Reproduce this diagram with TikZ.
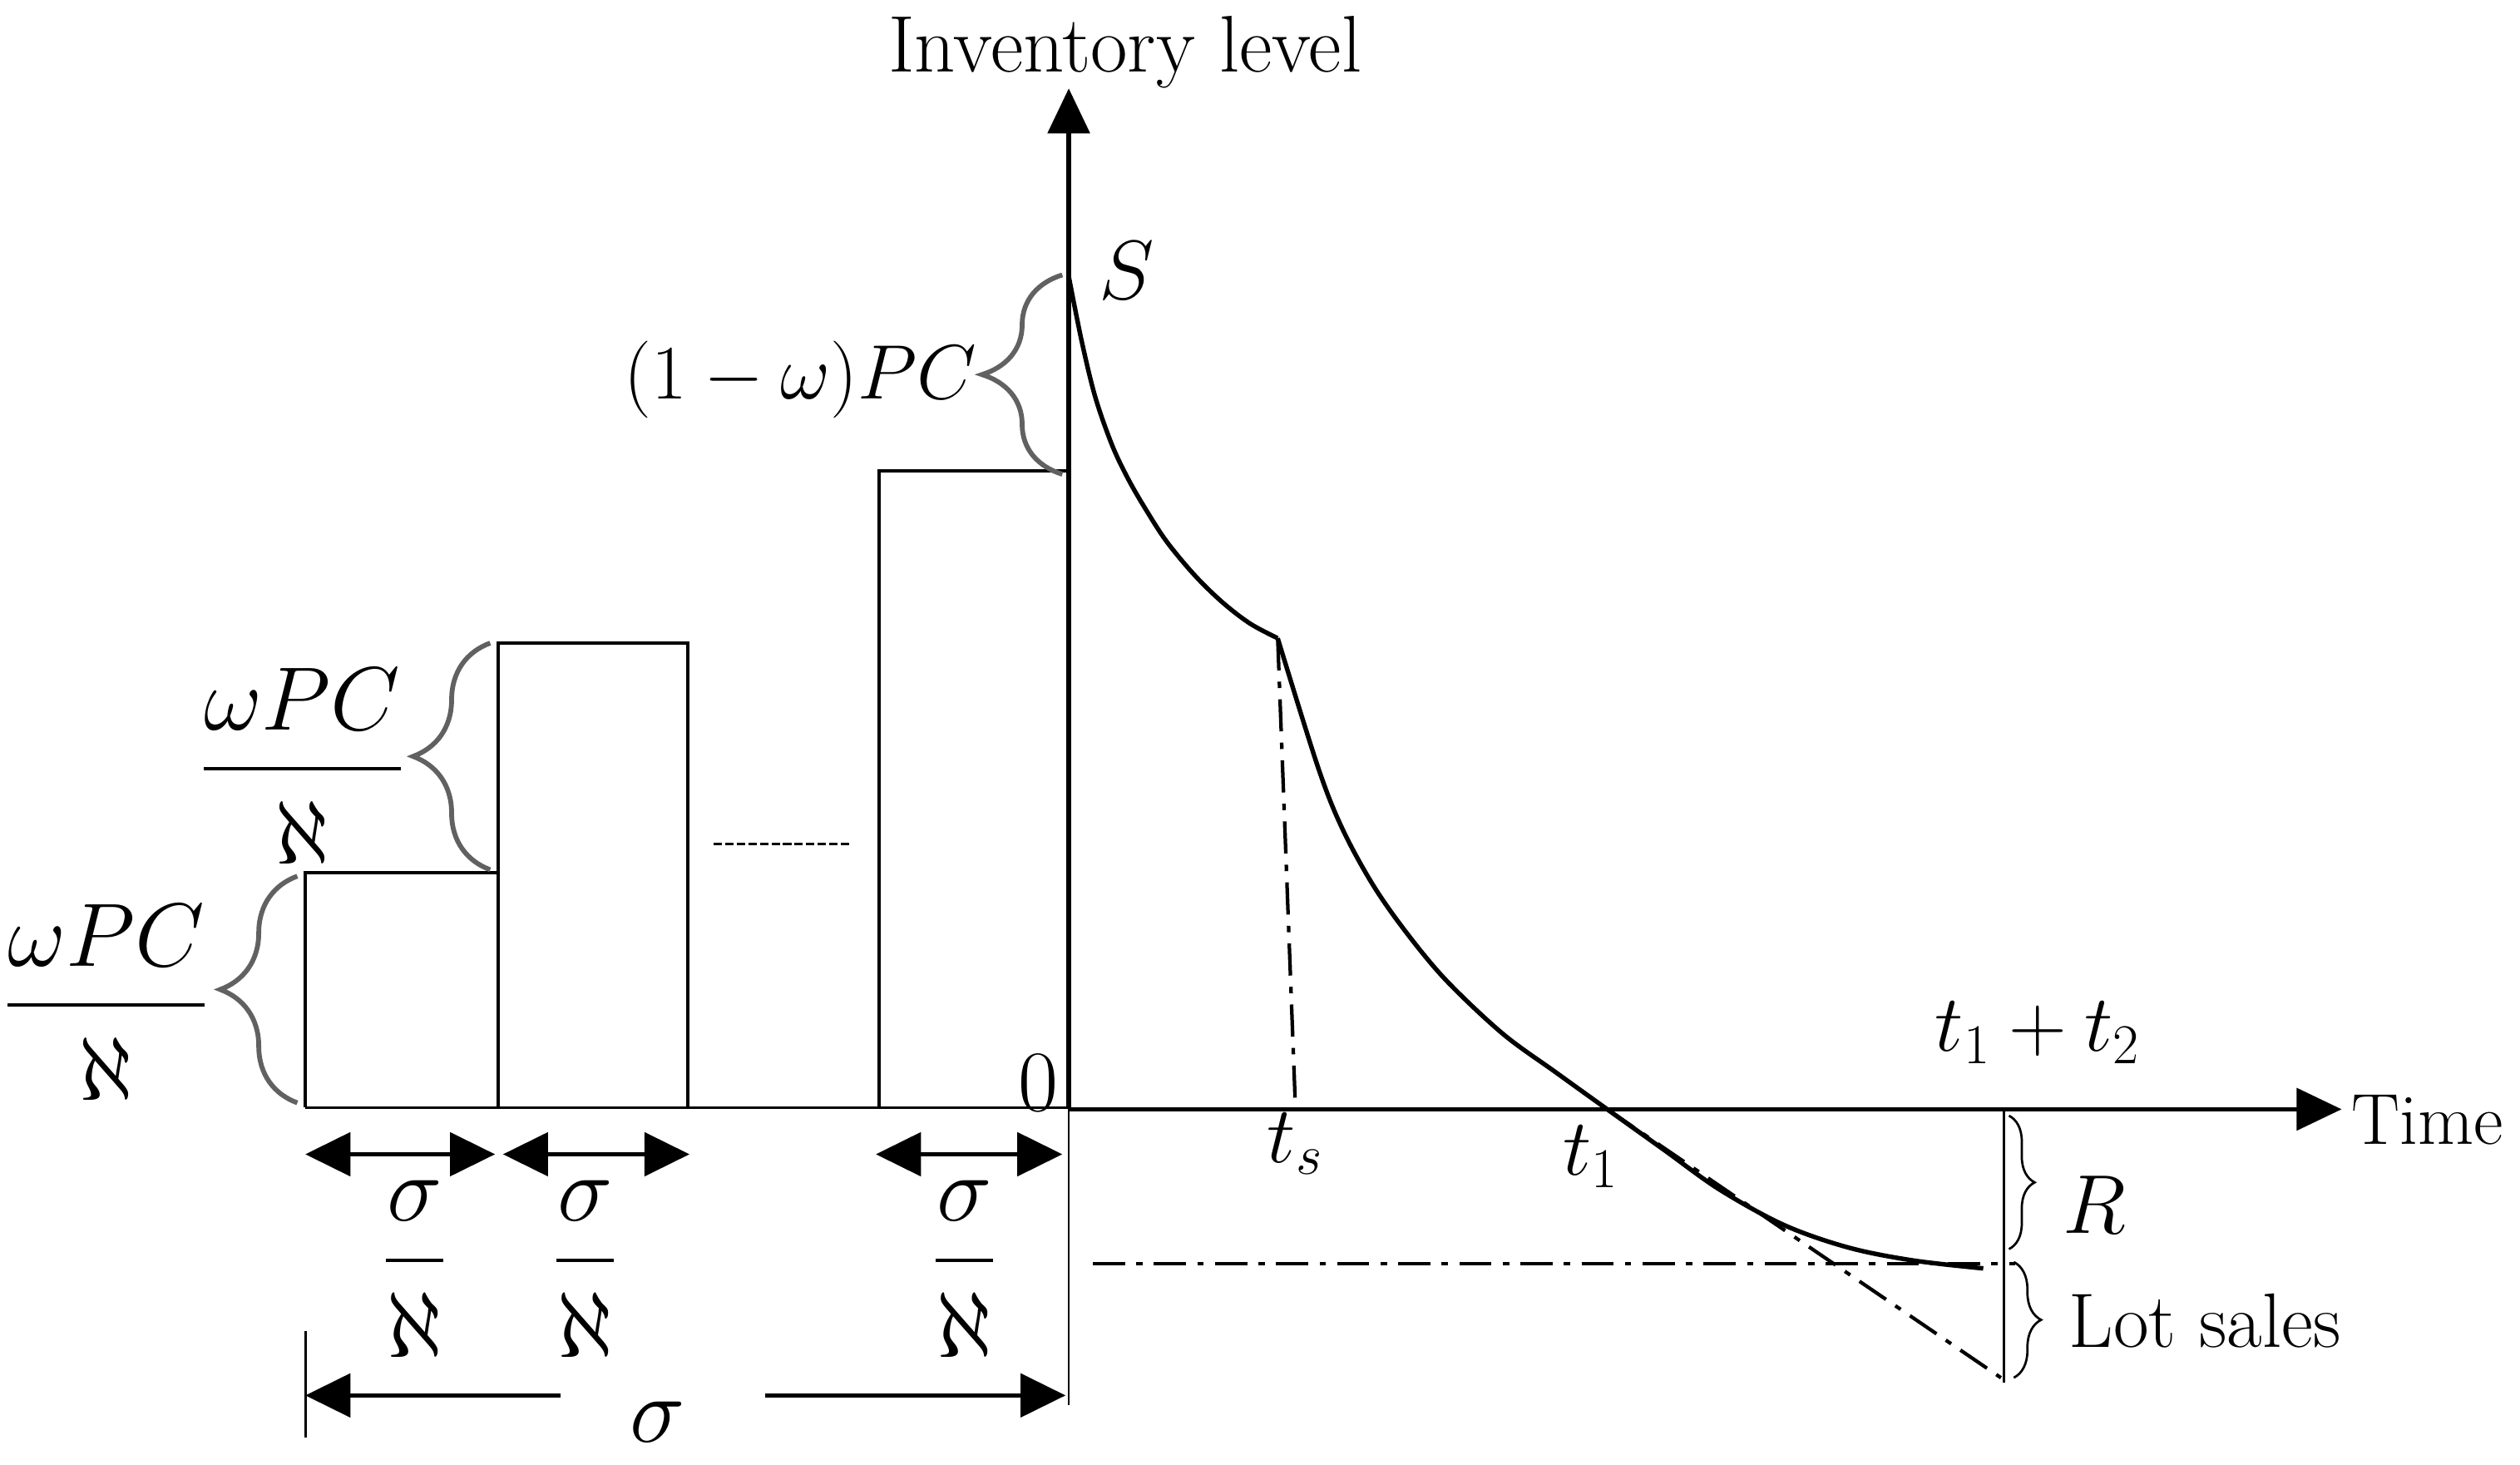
\RequirePackage{fix-cm}
\documentclass[tikz,border=0pt]{standalone}
\usepackage{amsmath}
\usetikzlibrary{arrows.meta,decorations.pathreplacing}
\begin{document}
\begin{tikzpicture}[x=0.5pt,y=-0.5pt,
  mainaxis/.style={line width=1.4pt,-{Triangle[length=14pt,width=13pt]}},
  boxline/.style={line width=1pt},
  thinline/.style={line width=0.7pt},
  invcurve/.style={line width=1.4pt,line join=round},
  dashdot/.style={line width=1.1pt,dash pattern=on 10pt off 3.5pt on 2pt off 3.5pt},
  dimboth/.style={line width=1.2pt,{Triangle[length=14pt,width=13.5pt]}-{Triangle[length=14pt,width=13.5pt]}},
  dimone/.style={line width=1.2pt,-{Triangle[length=14pt,width=13.5pt]}},
  graybrace/.style={draw=black!62,line width=1.5pt,decorate,decoration={brace,amplitude=#1}},
  thinbrace/.style={draw=black,line width=0.7pt,decorate,decoration={brace,amplitude=#1}},
  lbl/.style={inner sep=0pt,font=\fontsize{#1}{#1}\selectfont},
]
\useasboundingbox (0,0) rectangle (1568,911);

% key coordinates
\coordinate (O) at (665,690);
\coordinate (ytip) at (665,55);
\coordinate (xtip) at (1457,690);
\coordinate (ydown) at (665,874);
\coordinate (L0) at (190,689);
\coordinate (R0) at (665,689);
\coordinate (kink) at (795,397);
\coordinate (tsfoot) at (806,688);
\coordinate (tone) at (1000,690);
\coordinate (tanend) at (1245,857);
\coordinate (hstart) at (680,786);
\coordinate (hend) at (1254,786);
\coordinate (vtop) at (1247,690);
\coordinate (vbot) at (1247,860);

% axes
\draw[mainaxis] (O) -- (ytip);
\draw[mainaxis] (O) -- (xtip);
\draw[thinline] (O) -- (ydown);

% bars
\draw[boxline] (L0) -- (R0);
\draw[boxline] (190,689) -- (190,543) -- (310,543) -- (310,689);
\draw[boxline] (310,689) -- (310,400) -- (428,400) -- (428,689);
\draw[boxline] (547,689) -- (547,293) -- (665,293);
\coordinate (dl) at (444,525);
\coordinate (dr) at (529,525);
\draw[line width=0.8pt,dash pattern=on 2.6pt off 1pt] (dl) -- (dr);

% inventory curve
\draw[invcurve] plot[smooth,tension=0.55] coordinates {(665,172) (673,212) (681.5,247) (692,277) (702,298) (713,317) (726,337) (743.5,358) (761,375) (778,388) (795,397)};
\draw[invcurve] plot[smooth,tension=0.55] coordinates {(795,397) (820,477) (835,515) (854,550) (875,580) (900,610) (935,643) (968,667) (1000,690) (1035,715) (1070,740) (1110,762) (1150,776) (1190,784) (1234,789)};

% dash-dot helper lines
\draw[dashdot] (kink) -- (tsfoot);
\draw[dashdot] (tone) -- (tanend);
\draw[dashdot] (hstart) -- (hend);
\draw[thinline] (vtop) -- (vbot);

% braces
\coordinate (b0a) at (661,295); \coordinate (b0b) at (661,171);
\coordinate (b1a) at (305,541); \coordinate (b1b) at (305,400);
\coordinate (b2a) at (185,686); \coordinate (b2b) at (185,545);
\coordinate (bRa) at (1250,694); \coordinate (bRb) at (1250,777);
\coordinate (bLa) at (1253,785); \coordinate (bLb) at (1253,857);
\draw[graybrace=25pt] (b0a) -- (b0b);
\draw[graybrace=24pt] (b1a) -- (b1b);
\draw[graybrace=24pt] (b2a) -- (b2b);
\draw[thinbrace=8pt] (bRa) -- (bRb);
\draw[thinbrace=8.5pt] (bLa) -- (bLb);

% dimension arrows
\coordinate (d1a) at (190,718); \coordinate (d1b) at (308,718);
\coordinate (d2a) at (313,718); \coordinate (d2b) at (429,718);
\coordinate (d3a) at (545,718); \coordinate (d3b) at (661,718);
\draw[dimboth] (d1a) -- (d1b);
\draw[dimboth] (d2a) -- (d2b);
\draw[dimboth] (d3a) -- (d3b);
\coordinate (sl) at (349,868); \coordinate (sla) at (190,868);
\coordinate (sr) at (476,868); \coordinate (sra) at (663,868);
\coordinate (tk1) at (190,828); \coordinate (tk2) at (190,894);
\draw[dimone] (sl) -- (sla);
\draw[dimone] (sr) -- (sra);
\draw[thinline] (tk1) -- (tk2);

% labels
\node[lbl=25,anchor=base] (ylab) at (700,45) {Inventory level};
\node[lbl=22.5,anchor=base west] (xlab) at (1463,712) {Time};
\node[lbl=24,anchor=base west] (lot) at (1287,838) {Lot sales};
\node[lbl=26,anchor=base] (Rl) at (1303,767) {$R$};
\node[lbl=26,anchor=base] (Sl) at (701,186) {$S$};
\node[lbl=25,anchor=base] (tsl) at (806,723) {$t_s$};
\node[lbl=25,anchor=base] (t1l) at (990,731) {$t_1$};
\node[lbl=25,anchor=base] (t12l) at (1268,654) {$t_1+t_2$};
\node[lbl=27,anchor=base] (zero) at (646,691) {0};
\node[lbl=24,anchor=base] (opc) at (498,248) {$(1-\omega)PC$};
\node[lbl=28,anchor=base] (f1) at (188,492) {$\dfrac{\omega PC}{\raisebox{-3.5pt}{$\aleph$}}$};
\node[lbl=28,anchor=base] (f2) at (66,639) {$\dfrac{\omega PC}{\raisebox{-3.5pt}{$\aleph$}}$};
\node[lbl=29,anchor=base] (g1) at (258,798.5) {$\dfrac{\sigma}{\raisebox{-3pt}{$\aleph$}}$};
\node[lbl=29,anchor=base] (g2) at (364,798.5) {$\dfrac{\sigma}{\raisebox{-3pt}{$\aleph$}}$};
\node[lbl=29,anchor=base] (g3) at (600,798.5) {$\dfrac{\sigma}{\raisebox{-3pt}{$\aleph$}}$};
\node[lbl=29,anchor=base] (sig) at (409,897) {$\sigma$};
\end{tikzpicture}
\end{document}
